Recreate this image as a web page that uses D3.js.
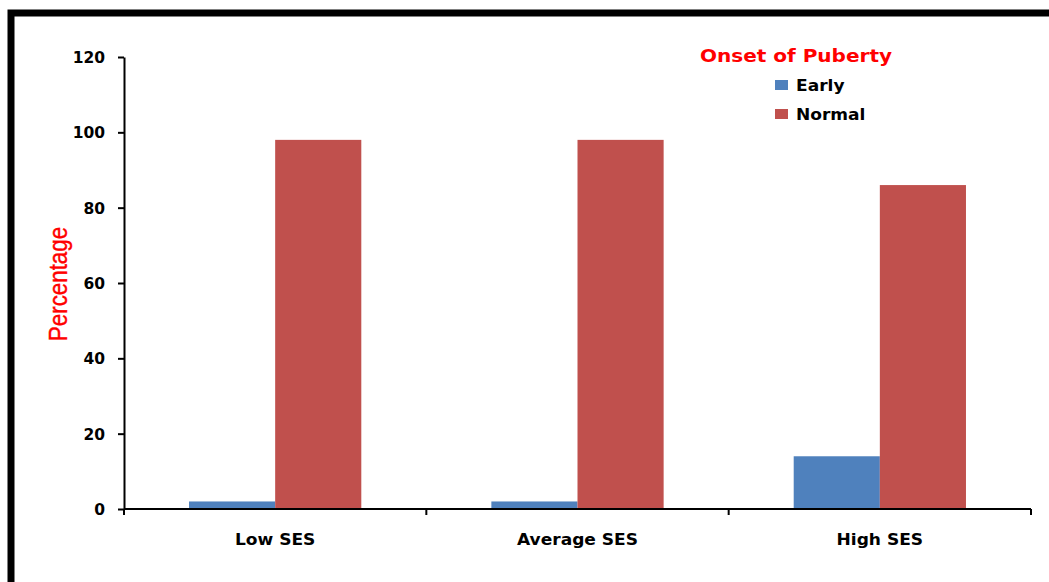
<!DOCTYPE html>
<html><head><meta charset="utf-8">
<script src="https://cdn.jsdelivr.net/npm/d3@7"></script>
<style>body{margin:0;background:#fff}svg{display:block}</style>
</head><body>
<script>
const categories = ["Low SES", "Average SES", "High SES"];
const seriesNames = ["Early", "Normal"];
const earlyValues = [2, 2, 14];
const normalValues = [98, 98, 86];
const yTicks = [0, 20, 40, 60, 80, 100, 120];
const colors = ["#4F81BD", "#C0504D"];

const W = 1049, H = 582;
const svg = d3.select("body").append("svg").attr("width", W).attr("height", H);

// frame
svg.append("rect").attr("x", 11).attr("y", 13).attr("width", W + 20).attr("height", H + 20)
  .attr("fill", "#fff").attr("stroke", "#000").attr("stroke-width", 7);

const x0 = 124, x1 = 1031, yTop = 57, yBot = 509;
const x = d3.scaleBand().domain(categories).range([x0, x1]).paddingInner(0).paddingOuter(0);
const gap = 1.51;
const y = d3.scaleLinear().domain([0, 120]).range([yBot, yTop]);
const font = "'DejaVu Sans', Verdana, sans-serif";
const sx = 1.1;

const data = categories.map((c, i) => ({cat: c, vals: [earlyValues[i], normalValues[i]]}));
const bw = x.bandwidth() / (2 + gap);

const g = svg.append("g");
data.forEach(d => {
  d.vals.forEach((v, j) => {
    const bx = x(d.cat) + x.bandwidth() / 2 - bw + j * bw;
    g.append("rect").attr("x", bx).attr("y", y(v)).attr("width", bw).attr("height", y(0) - y(v))
      .attr("fill", colors[j]);
  });
});

// y axis
const yAxis = d3.axisLeft(y).tickValues(yTicks).tickSize(6).tickSizeOuter(0).tickFormat(d3.format("d"));
const ya = svg.append("g").attr("transform", `translate(${x0},0)`).call(yAxis);
ya.select(".domain").attr("stroke", "#000").attr("stroke-width", 2);
ya.selectAll(".tick line").attr("stroke", "#000").attr("stroke-width", 2);
ya.selectAll(".tick text").attr("x", -19).attr("dy", "0.36em")
  .attr("font-family", font).attr("font-weight", "bold").attr("font-size", 15.5).attr("fill", "#000")
  .attr("text-anchor", "end");

// x axis
const xa = svg.append("g").attr("transform", `translate(0,${yBot})`);
xa.append("line").attr("x1", x0).attr("x2", x1).attr("y1", 0).attr("y2", 0).attr("stroke", "#000").attr("stroke-width", 2);
const bounds = categories.map(c => x(c)).concat([x1]);
xa.selectAll("line.tk").data(bounds).enter().append("line").attr("class", "tk")
  .attr("x1", d => d).attr("x2", d => d).attr("y1", 0).attr("y2", 6).attr("stroke", "#000").attr("stroke-width", 2);
xa.selectAll("text.cat").data(categories).enter().append("text").attr("class", "cat")
  .attr("transform", d => `translate(${x(d) + x.bandwidth() / 2},36) scale(${sx},1)`)
  .attr("text-anchor", "middle").attr("font-family", font).attr("font-weight", "bold")
  .attr("font-size", 15.5).attr("fill", "#000").text(d => d);

// y label
svg.append("text").attr("transform", "translate(67,284) rotate(-90) scale(0.86,1)")
  .attr("text-anchor", "middle").attr("font-family", "'Liberation Sans',Arial,sans-serif")
  .attr("font-size", 26).attr("fill", "#ff0000").attr("stroke", "#ff0000").attr("stroke-width", 0.4)
  .text("Percentage");

// legend
svg.append("text").attr("transform", `translate(700,62) scale(${sx},1)`)
  .attr("font-family", font).attr("font-weight", "bold").attr("font-size", 18.2).attr("fill", "#ff0000")
  .text("Onset of Puberty");
const leg = svg.append("g");
seriesNames.forEach((s, i) => {
  const ly = 80 + i * 29;
  leg.append("rect").attr("x", 775).attr("y", ly).attr("width", 13).attr("height", 10).attr("fill", colors[i]);
  leg.append("text").attr("transform", `translate(796,${ly + 11}) scale(${sx},1)`)
    .attr("font-family", font).attr("font-weight", "bold").attr("font-size", 15.5).attr("fill", "#000").text(s);
});
</script>
</body></html>
